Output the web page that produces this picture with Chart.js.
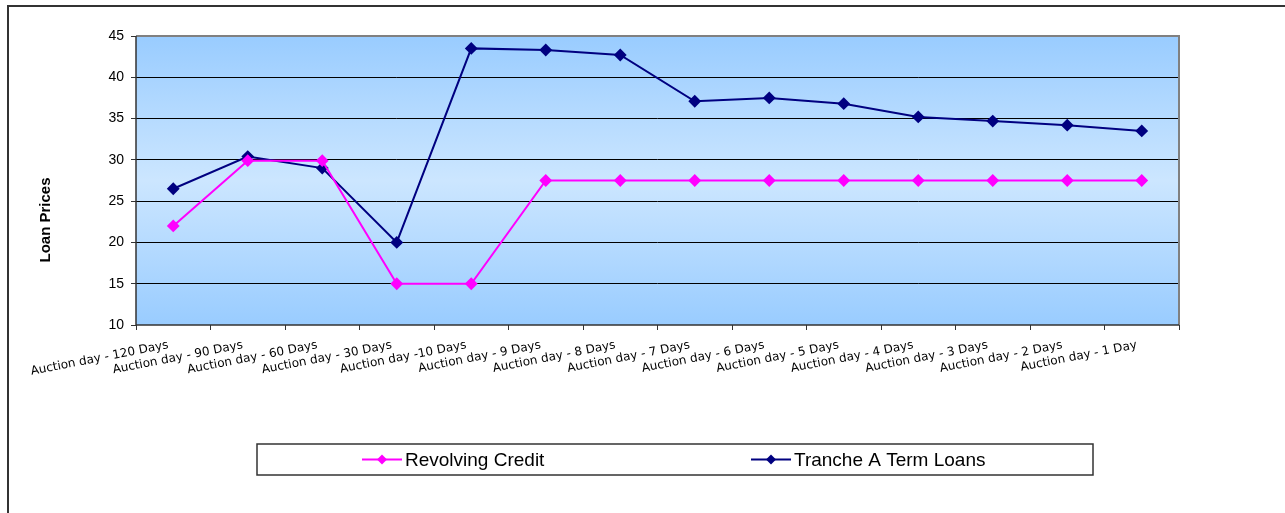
<!DOCTYPE html>
<html>
<head>
<meta charset="utf-8">
<script src="https://cdn.jsdelivr.net/npm/chart.js@4/dist/chart.umd.min.js"></script>
<style>
html,body{margin:0;padding:0;background:#fff;}
#wrap{width:1285px;height:513px;position:relative;}
</style>
</head>
<body>
<div id="wrap"><canvas id="c" width="1285" height="513"></canvas></div>
<script>
const categories = ["Auction day - 120 Days","Auction day - 90 Days","Auction day - 60 Days","Auction day - 30 Days","Auction day -10 Days","Auction day - 9 Days","Auction day - 8 Days","Auction day - 7 Days","Auction day - 6 Days","Auction day - 5 Days","Auction day - 4 Days","Auction day - 3 Days","Auction day - 2 Days","Auction day - 1 Day"];
const revolvingCredit = [22, 29.9, 29.9, 15, 15, 27.5, 27.5, 27.5, 27.5, 27.5, 27.5, 27.5, 27.5, 27.5];
const trancheA = [26.5, 30.4, 29.0, 20.0, 43.5, 43.3, 42.7, 37.1, 37.5, 36.8, 35.2, 34.7, 34.2, 33.5];
const yTicks = [10, 15, 20, 25, 30, 35, 40, 45];
const seriesNames = ["Revolving Credit", "Tranche A Term Loans"];
const seriesColors = ["#FF00FF", "#000080"];
const yAxisTitle = "Loan Prices";

const bgPlugin = {
  id: 'bgPlugin',
  beforeDraw(chart) {
    const {ctx, chartArea: a} = chart;
    ctx.save();
    ctx.fillStyle = '#fff';
    ctx.fillRect(0, 0, chart.width, chart.height);
    ctx.strokeStyle = '#333';
    ctx.lineWidth = 2;
    ctx.beginPath();
    ctx.moveTo(8, 513);
    ctx.lineTo(8, 6);
    ctx.lineTo(1285, 6);
    ctx.stroke();
    const g = ctx.createLinearGradient(0, a.top, 0, a.bottom);
    g.addColorStop(0, '#99CCFF');
    g.addColorStop(0.5, '#CCE6FF');
    g.addColorStop(1, '#99CCFF');
    ctx.fillStyle = g;
    ctx.fillRect(a.left, a.top, a.right - a.left, a.bottom - a.top);
    ctx.restore();
  },
  beforeDatasetsDraw(chart) {
    const {ctx, chartArea: a} = chart;
    ctx.save();
    ctx.strokeStyle = '#808080';
    ctx.lineWidth = 2;
    ctx.beginPath();
    ctx.moveTo(a.left, a.top);
    ctx.lineTo(a.right, a.top);
    ctx.lineTo(a.right, a.bottom);
    ctx.stroke();
    ctx.strokeStyle = '#333';
    ctx.lineWidth = 1.5;
    ctx.beginPath();
    ctx.moveTo(a.left, a.top);
    ctx.lineTo(a.left, a.bottom);
    ctx.lineTo(a.right, a.bottom);
    ctx.stroke();
    ctx.restore();
  },
  afterDraw(chart) {
    const {ctx} = chart;
    ctx.save();
    ctx.save();
    ctx.translate(46, 220);
    ctx.rotate(-Math.PI / 2);
    ctx.font = 'bold 15px "Liberation Sans", Arial, sans-serif';
    ctx.fillStyle = '#000';
    ctx.textAlign = 'center';
    ctx.textBaseline = 'middle';
    ctx.fillText(yAxisTitle, 0, 0);
    ctx.restore();
    const L = 257, T = 444, R = 1093, B = 475;
    ctx.fillStyle = '#fff';
    ctx.fillRect(L, T, R - L, B - T);
    ctx.strokeStyle = '#333';
    ctx.lineWidth = 1.5;
    ctx.strokeRect(L, T, R - L, B - T);
    const cy = (T + B) / 2;
    const items = [{x: 362}, {x: 751}];
    ctx.font = '19px "Liberation Sans", Arial, sans-serif';
    ctx.textBaseline = 'middle';
    chart.data.datasets.forEach((ds, i) => {
      const x0 = items[i].x;
      ctx.strokeStyle = ds.borderColor;
      ctx.lineWidth = 2;
      ctx.beginPath();
      ctx.moveTo(x0, cy);
      ctx.lineTo(x0 + 40, cy);
      ctx.stroke();
      ctx.fillStyle = ds.borderColor;
      ctx.beginPath();
      const mx = x0 + 20, r = 5;
      ctx.moveTo(mx, cy - r); ctx.lineTo(mx + r, cy); ctx.lineTo(mx, cy + r); ctx.lineTo(mx - r, cy); ctx.closePath();
      ctx.fill();
      ctx.fillStyle = '#000';
      ctx.fillText(ds.label, x0 + 43, cy + 1);
    });
    ctx.restore();
  }
};

const ctx = document.getElementById('c').getContext('2d');
new Chart(ctx, {
  type: 'line',
  data: {
    labels: categories,
    datasets: [
      {label: seriesNames[0], data: revolvingCredit, borderColor: seriesColors[0], backgroundColor: seriesColors[0], borderWidth: 2, pointStyle: 'rectRot', pointRadius: 5, pointHoverRadius: 5, tension: 0, fill: false},
      {label: seriesNames[1], data: trancheA, borderColor: seriesColors[1], backgroundColor: seriesColors[1], borderWidth: 2, pointStyle: 'rectRot', pointRadius: 5, pointHoverRadius: 5, tension: 0, fill: false}
    ]
  },
  options: {
    responsive: false,
    animation: false,
    devicePixelRatio: 1,
    layout: {padding: {left: 0, right: 106, top: 36, bottom: 0}},
    plugins: {legend: {display: false}, tooltip: {enabled: false}},
    scales: {
      x: {
        offset: true,
        grid: {display: true, drawOnChartArea: false, drawTicks: true, offset: true, tickLength: 5, color: '#333', lineWidth: 1},
        border: {display: false},
        ticks: {
          maxRotation: 11, minRotation: 11, autoSkip: false, padding: 8, labelOffset: -5,
          color: '#000', font: {family: '"DejaVu Sans", sans-serif', size: 12}
        },
        afterFit(scale) { scale.height = 188; }
      },
      y: {
        min: 10, max: 45,
        afterBuildTicks(scale) { scale.ticks = yTicks.map(v => ({value: v})); },
        grid: {color: (c) => (c.tick && (c.tick.value === 10 || c.tick.value === 45)) ? 'rgba(0,0,0,0)' : '#000', lineWidth: 1, drawTicks: true, tickLength: 5, tickColor: '#333'},
        border: {display: false},
        ticks: {color: '#000', padding: 7, font: {family: '"Liberation Sans", Arial, sans-serif', size: 14}},
        title: {display: false},
        afterFit(scale) { scale.width = 136; }
      }
    }
  },
  plugins: [bgPlugin]
});
</script>
</body>
</html>
